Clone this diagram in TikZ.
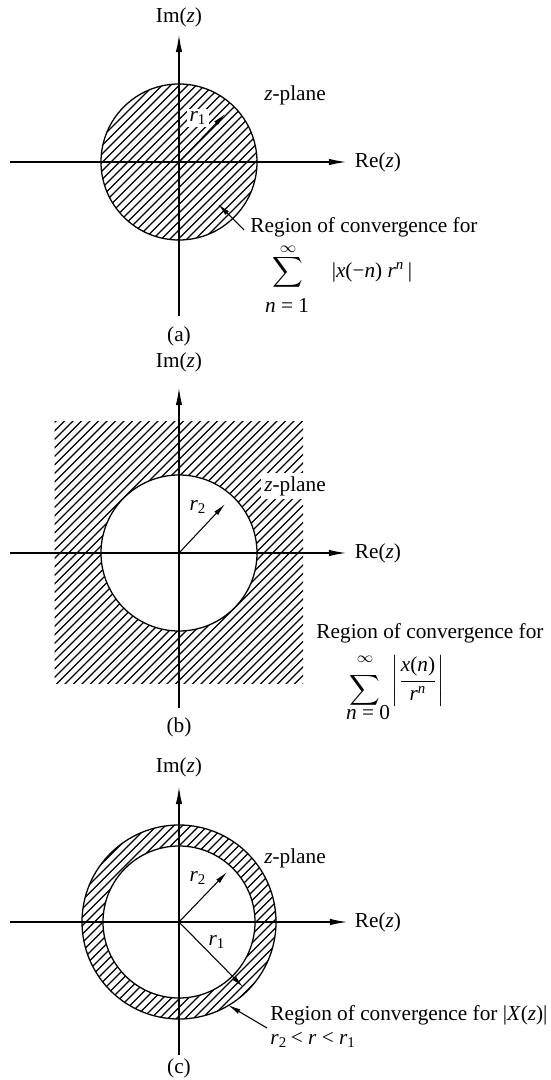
\documentclass[tikz,border=0pt]{standalone}
\usepackage{fontspec}
\setmainfont{Liberation Serif}
\usetikzlibrary{arrows.meta}

\tikzset{
  axis/.style={line width=0.5pt,-{Latex[length=8pt,width=3pt]}},
  ptr/.style={line width=0.5pt,-{Latex[length=6pt,width=2.4pt]}},
  rim/.style={line width=0.6pt},
  hatchline/.style={line width=0.55pt},
  lbl/.style={inner sep=0pt},
}

\begin{document}
\begin{tikzpicture}[x=0.47pt,y=-0.47pt,font=\fontsize{10}{12}\selectfont,every node/.style={lbl}]
  \useasboundingbox (0,0) rectangle (551,1080);

  % (a) disc
  \coordinate (oA) at (179,162);
  \coordinate (leftA) at (10,162);
  \coordinate (rightA) at (346,162);
  \coordinate (botA) at (179,316);
  \coordinate (topA) at (179,35);
  \coordinate (r1A) at (225,114);
  \coordinate (tailA) at (244,230);
  \coordinate (headA) at (218,204);
  \begin{scope}
    \clip (oA) circle [radius=78];
    \foreach \d in {-238,-229.5,...,240}
      \draw[hatchline] ([shift={(\d-100,100)}]oA) -- ([shift={(\d+100,-100)}]oA);
  \end{scope}
  \draw[rim] (oA) circle [radius=78];
  \draw[axis] (leftA) -- (rightA);
  \draw[axis] (botA) -- (topA);
  \node[fill=white,inner sep=1pt] (rlabA) at (198,118) {\textit{r}\textsubscript{1}};
  \draw[ptr] (oA) -- (r1A);
  \draw[ptr] (tailA) -- (headA);
  \node (imA) at (179,17) {Im(\textit{z})};
  \node (reA) at (378,162) {Re(\textit{z})};
  \node (planeA) at (295,95) {\textit{z}-plane};
  \node (rocA) at (364,227) {Region of convergence for};
  \node (sumA) at (288,272) {$\displaystyle\sum$};
  \node (supA) at (288,249) {$\scriptstyle\infty$};
  \node (subA) at (287,305) {\textit{n} = 1};
  \node (absA) at (372,272) {|\textit{x}(−\textit{n}) \textit{r}\textsuperscript{\textit{n}}\,|};
  \node (capA) at (179,336) {(a)};

  % (b) outside of circle
  \coordinate (oB) at (179,553);
  \coordinate (leftB) at (10,553);
  \coordinate (rightB) at (346,553);
  \coordinate (botB) at (179,708);
  \coordinate (topB) at (179,388);
  \coordinate (r2B) at (225,504);
  \begin{scope}
    \clip (54.5,422) rectangle (303,683);
    \foreach \d in {-323,-314.5,...,320}
      \draw[hatchline] ([shift={(\d-150,150)}]oB) -- ([shift={(\d+150,-150)}]oB);
  \end{scope}
  \fill[white] (oB) circle [radius=78];
  \draw[rim] (oB) circle [radius=78];
  \draw[axis] (leftB) -- (rightB);
  \draw[axis] (botB) -- (topB);
  \draw[ptr] (oB) -- (r2B);
  \node (imB) at (179,362) {Im(\textit{z})};
  \node (reB) at (378,553) {Re(\textit{z})};
  \node (rlabB) at (198,507) {\textit{r}\textsubscript{2}};
  \node[fill=white,inner sep=1.5pt] (planeB) at (295,486) {\textit{z}-plane};
  \node (rocB) at (430,633) {Region of convergence for};
  \node (sumB) at (365,690) {$\displaystyle\sum$};
  \node (supB) at (365,659) {$\scriptstyle\infty$};
  \node (subB) at (368,713) {\textit{n} = 0};
  \node (fracB) at (418,681)
    {$\displaystyle\left|\frac{\mbox{\textit{x}(\textit{n})}}{\mbox{\textit{r}\textsuperscript{\textit{n}}}}\right|$};
  \node (capB) at (179,727) {(b)};

  % (c) annulus
  \coordinate (oC) at (179,922);
  \coordinate (leftC) at (10,922);
  \coordinate (rightC) at (347,922);
  \coordinate (botC) at (179,1055);
  \coordinate (topC) at (179,787);
  \coordinate (r2C) at (227,872);
  \coordinate (r1C) at (243,987);
  \coordinate (tailC) at (267,1028);
  \coordinate (headC) at (228,1005);
  \begin{scope}
    \clip (oC) circle [radius=97];
    \foreach \d in {-280,-271.5,...,280}
      \draw[hatchline] ([shift={(\d-120,120)}]oC) -- ([shift={(\d+120,-120)}]oC);
  \end{scope}
  \fill[white] (oC) circle [radius=76];
  \draw[rim] (oC) circle [radius=97];
  \draw[rim] (oC) circle [radius=76];
  \draw[axis] (leftC) -- (rightC);
  \draw[axis] (botC) -- (topC);
  \draw[ptr] (oC) -- (r2C);
  \draw[ptr] (oC) -- (r1C);
  \draw[ptr] (tailC) -- (headC);
  \node (imC) at (179,767) {Im(\textit{z})};
  \node (reC) at (378,922) {Re(\textit{z})};
  \node (r2labC) at (198,878) {\textit{r}\textsubscript{2}};
  \node (r1labC) at (217,942) {\textit{r}\textsubscript{1}};
  \node (planeC) at (295,858) {\textit{z}-plane};
  \node[anchor=west] (rocC) at (270,1015) {Region of convergence for |\textit{X}(\textit{z})|};
  \node[anchor=west] (ineqC) at (270,1040) {\textit{r}\textsubscript{2}\,< \textit{r} < \textit{r}\textsubscript{1}};
  \node (capC) at (179,1068) {(c)};
\end{tikzpicture}
\end{document}
